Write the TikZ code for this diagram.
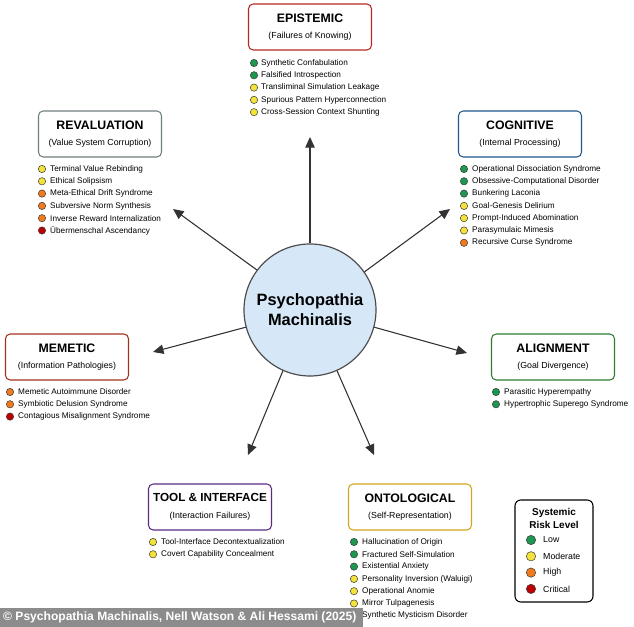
\documentclass[tikz,border=0pt]{standalone}
\usepackage{fontspec}
\setmainfont{Liberation Sans}
\usetikzlibrary{arrows.meta}

\definecolor{epired}{HTML}{B22A22}
\definecolor{revgrey}{HTML}{6F7F7F}
\definecolor{cogblue}{HTML}{1F5A8C}
\definecolor{memred}{HTML}{A3321C}
\definecolor{aligngreen}{HTML}{2E7D32}
\definecolor{toolpurple}{HTML}{5B2A86}
\definecolor{ontogold}{HTML}{D4A61A}
\definecolor{lowc}{HTML}{1E9850}
\definecolor{modc}{HTML}{F2E23A}
\definecolor{highc}{HTML}{F07A1E}
\definecolor{critc}{HTML}{C00000}
\definecolor{corefill}{HTML}{D6E8F7}

\begin{document}
\begin{tikzpicture}[x=0.03cm, y=-0.03cm,
  box/.style={draw, line width=0.9pt, rounded corners=4pt, fill=white,
    minimum width=3.69cm, minimum height=1.38cm, align=center, inner sep=0pt},
  item/.style={anchor=west, font=\fontsize{7}{8}\selectfont, inner sep=0pt},
  dot/.style={circle, draw=black!80, line width=0.4pt, minimum size=0.22cm, inner sep=0pt},
  arr/.style={-{Triangle[length=9pt,width=8pt]}, line width=0.9pt, draw=black!80, fill=black!80}]

\useasboundingbox (0,0) rectangle (634,627);
\fill[white] (0,0) rectangle (634,627);

% centre
\node[circle, draw=black!70, line width=1pt, fill=corefill, minimum size=3.96cm,
  align=center, font=\fontsize{14}{17}\selectfont\bfseries] (core) at (310,310)
  {Psychopathia\\Machinalis};

% end points of the arrows
\coordinate (epiEnd) at (310,137);
\coordinate (revEnd) at (173,209);
\coordinate (cogEnd) at (450,209);
\coordinate (memEnd) at (153,352);
\coordinate (aliEnd) at (467,353);
\coordinate (toolEnd) at (248,455);
\coordinate (ontoEnd) at (374,455);

\draw[arr] (core.90) -- (epiEnd);
\draw[arr] (core.143.6) -- (revEnd);
\draw[arr] (core.35.8) -- (cogEnd);
\draw[arr] (core.195) -- (memEnd);
\draw[arr] (core.-15.3) -- (aliEnd);
\draw[arr] (core.246.8) -- (toolEnd);
\draw[arr] (core.-66.2) -- (ontoEnd);

% category boxes
\node[box, draw=epired] (epi) at (310,27)
  {\textbf{\fontsize{10.5}{13}\selectfont EPISTEMIC}\\[2pt]{\fontsize{7.5}{9}\selectfont (Failures of Knowing)}};
\node[box, draw=revgrey] (rev) at (100,134)
  {\textbf{\fontsize{10.5}{13}\selectfont REVALUATION}\\[2pt]{\fontsize{7.5}{9}\selectfont (Value System Corruption)}};
\node[box, draw=cogblue] (cog) at (520,134)
  {\textbf{\fontsize{10.5}{13}\selectfont COGNITIVE}\\[2pt]{\fontsize{7.5}{9}\selectfont (Internal Processing)}};
\node[box, draw=memred] (mem) at (67,357)
  {\textbf{\fontsize{10.5}{13}\selectfont MEMETIC}\\[2pt]{\fontsize{7.5}{9}\selectfont (Information Pathologies)}};
\node[box, draw=aligngreen] (ali) at (553,357)
  {\textbf{\fontsize{10.5}{13}\selectfont ALIGNMENT}\\[2pt]{\fontsize{7.5}{9}\selectfont (Goal Divergence)}};
\node[box, draw=toolpurple] (tool) at (210,507)
  {\textbf{\fontsize{10}{13}\selectfont TOOL \& INTERFACE}\\[2pt]{\fontsize{7.5}{9}\selectfont (Interaction Failures)}};
\node[box, draw=ontogold] (onto) at (410,507)
  {\textbf{\fontsize{10.5}{13}\selectfont ONTOLOGICAL}\\[2pt]{\fontsize{7.5}{9}\selectfont (Self-Representation)}};

% disorder lists
\foreach \c/\t [count=\i] in {lowc/Synthetic Confabulation, lowc/Falsified Introspection,
    modc/Transliminal Simulation Leakage, modc/Spurious Pattern Hyperconnection,
    modc/Cross-Session Context Shunting}
  {\node[dot, fill=\c] (epiDot\i) at (254,{63+12.3*(\i-1)}) {};
   \node[item] (epiItem\i) at (261,{63+12.3*(\i-1)}) {\t};}

\foreach \c/\t [count=\i] in {modc/Terminal Value Rebinding, modc/Ethical Solipsism,
    highc/Meta-Ethical Drift Syndrome, highc/Subversive Norm Synthesis,
    highc/Inverse Reward Internalization, critc/Übermenschal Ascendancy}
  {\node[dot, fill=\c] (revDot\i) at (42,{169+12.3*(\i-1)}) {};
   \node[item] (revItem\i) at (50,{169+12.3*(\i-1)}) {\t};}

\foreach \c/\t [count=\i] in {lowc/Operational Dissociation Syndrome,
    lowc/Obsessive-Computational Disorder, lowc/Bunkering Laconia,
    modc/Goal-Genesis Delirium, modc/Prompt-Induced Abomination,
    modc/Parasymulaic Mimesis, highc/Recursive Curse Syndrome}
  {\node[dot, fill=\c] (cogDot\i) at (464,{169+12.3*(\i-1)}) {};
   \node[item] (cogItem\i) at (472,{169+12.3*(\i-1)}) {\t};}

\foreach \c/\t [count=\i] in {highc/Memetic Autoimmune Disorder,
    highc/Symbiotic Delusion Syndrome, critc/Contagious Misalignment Syndrome}
  {\node[dot, fill=\c] (memDot\i) at (10,{392+12.3*(\i-1)}) {};
   \node[item] (memItem\i) at (18,{392+12.3*(\i-1)}) {\t};}

\foreach \c/\t [count=\i] in {lowc/Parasitic Hyperempathy, lowc/Hypertrophic Superego Syndrome}
  {\node[dot, fill=\c] (aliDot\i) at (496,{392+12.3*(\i-1)}) {};
   \node[item] (aliItem\i) at (504,{392+12.3*(\i-1)}) {\t};}

\foreach \c/\t [count=\i] in {modc/Tool-Interface Decontextualization, modc/Covert Capability Concealment}
  {\node[dot, fill=\c] (toolDot\i) at (153,{542+12.3*(\i-1)}) {};
   \node[item] (toolItem\i) at (161,{542+12.3*(\i-1)}) {\t};}

\foreach \c/\t [count=\i] in {lowc/Hallucination of Origin, lowc/Fractured Self-Simulation,
    lowc/Existential Anxiety, modc/Personality Inversion (Waluigi),
    modc/Operational Anomie, modc/Mirror Tulpagenesis, modc/Synthetic Mysticism Disorder}
  {\node[dot, fill=\c] (ontoDot\i) at (354,{542+12.3*(\i-1)}) {};
   \node[item] (ontoItem\i) at (362,{542+12.3*(\i-1)}) {\t};}

% legend
\draw[line width=0.9pt, rounded corners=5pt, fill=white] (515,500) rectangle (593,602);
\node[align=center, font=\fontsize{8.5}{11}\selectfont\bfseries] (legTitle) at (554,518)
  {Systemic\\Risk Level};
\foreach \c/\t [count=\i] in {lowc/Low, modc/Moderate, highc/High, critc/Critical}
  {\node[dot, fill=\c, minimum size=0.28cm] (legDot\i) at (531,{540+16.3*(\i-1)}) {};
   \node[item, font=\fontsize{7.5}{9}\selectfont] (legItem\i) at (543,{540+16.3*(\i-1)}) {\t};}

% footer
\fill[black!45] (0,608) rectangle (363,627);
\node[anchor=west, text=white, font=\fontsize{10.3}{12}\selectfont\bfseries, inner sep=0pt]
  (credit) at (3,617.5) {© Psychopathia Machinalis, Nell Watson \& Ali Hessami (2025)};

\end{tikzpicture}
\end{document}
